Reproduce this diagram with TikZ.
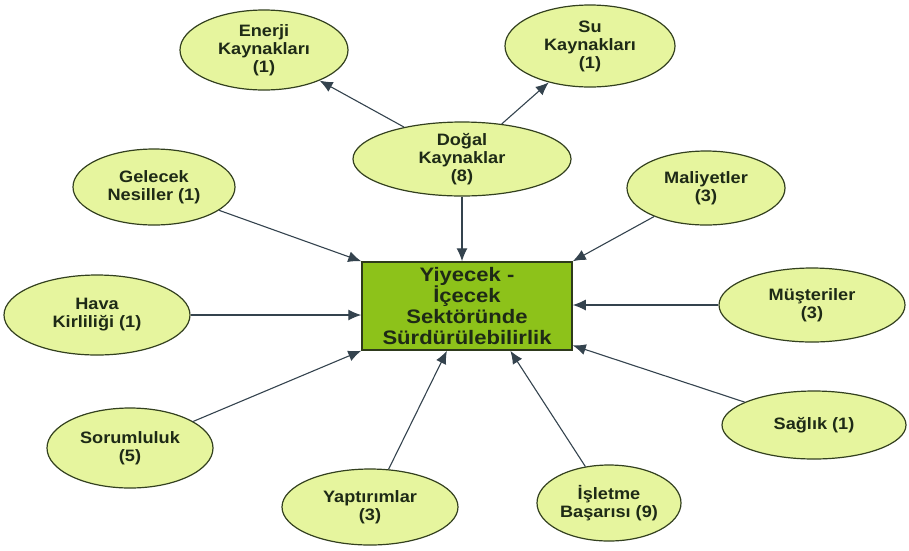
\documentclass[tikz,border=0pt]{standalone}
\usepackage{fontspec}
\setmainfont[FakeStretch=1.1]{Liberation Sans}
\newfontfamily\boxfont[FakeStretch=1.13]{Liberation Sans}
\usetikzlibrary{shapes.geometric,arrows.meta,calc}
\definecolor{ellfill}{HTML}{E6F59E}
\definecolor{ellline}{HTML}{33401F}
\definecolor{boxfill}{HTML}{8DC21A}
\definecolor{boxline}{HTML}{2E3A1C}
\definecolor{arrline}{HTML}{55606A}
\definecolor{arrhead}{HTML}{34434E}
\definecolor{txt}{HTML}{1E2A16}
\tikzset{
  oval/.style={ellipse, draw=ellline, line width=1.2pt, fill=ellfill, inner sep=0pt,
    align=center, text=txt, font=\bfseries\fontsize{16.5}{18}\selectfont},
  centerbox/.style={rectangle, draw=boxline, line width=1.5pt, fill=boxfill, inner sep=0pt,
    minimum width=210pt, minimum height=88pt, align=center, text=txt,
    font=\boxfont\bfseries\fontsize{19.5}{21}\selectfont},
  link/.style={draw=arrline, line width=1.1pt, -{Latex[length=13pt,width=11pt,fill=arrhead]}, arrhead}
}
\begin{document}
\begin{tikzpicture}[x=1pt,y=-1pt]
\useasboundingbox (0,0) rectangle (909,550);
\node[centerbox] (box) at (467,306) {Yiyecek -\\İçecek\\Sektöründe\\Sürdürülebilirlik};
\node[oval, minimum width=168pt, minimum height=80pt] (enerji) at (264,50) {Enerji\\Kaynakları\\(1)};
\node[oval, minimum width=170pt, minimum height=82pt] (su) at (590,46) {Su\\Kaynakları\\(1)};
\node[oval, minimum width=218pt, minimum height=74pt] (dogal) at (462,159) {Doğal\\Kaynaklar\\(8)};
\node[oval, minimum width=162pt, minimum height=76pt] (gelecek) at (154,187) {Gelecek\\Nesiller (1)};
\node[oval, minimum width=158pt, minimum height=74pt] (maliyet) at (706,188) {Maliyetler\\(3)};
\node[oval, minimum width=186pt, minimum height=80pt] (hava) at (97,315) {Hava\\Kirliliği (1)};
\node[oval, minimum width=186pt, minimum height=74pt] (musteri) at (812,305) {Müşteriler\\(3)};
\node[oval, minimum width=166pt, minimum height=80pt] (sorum) at (130,448) {Sorumluluk\\(5)};
\node[oval, minimum width=184pt, minimum height=68pt] (saglik) at (814,425) {Sağlık (1)};
\node[oval, minimum width=176pt, minimum height=76pt] (yaptirim) at (370,507) {Yaptırımlar\\(3)};
\node[oval, minimum width=144pt, minimum height=76pt] (isletme) at (609,503) {İşletme\\Başarısı (9)};

\coordinate (yE) at ($(box.south west)!0.405!(box.south east)$);
\coordinate (iE) at ($(box.south west)!0.705!(box.south east)$);
\coordinate (sE) at ($(box.north east)!0.94!(box.south east)$);

\draw[link] (dogal) -- (enerji);
\draw[link] (dogal) -- (su);
\draw[link] (dogal) -- (box.north -| dogal);
\draw[link] (gelecek) -- (box.north west);
\draw[link] (maliyet) -- (box.north east);
\draw[link] (hava) -- (box.west |- hava);
\draw[link] (musteri) -- (box.east |- musteri);
\draw[link] (sorum) -- (box.south west);
\draw[link] (yaptirim) -- (yE);
\draw[link] (isletme) -- (iE);
\draw[link] (saglik) -- (sE);
\end{tikzpicture}
\end{document}
